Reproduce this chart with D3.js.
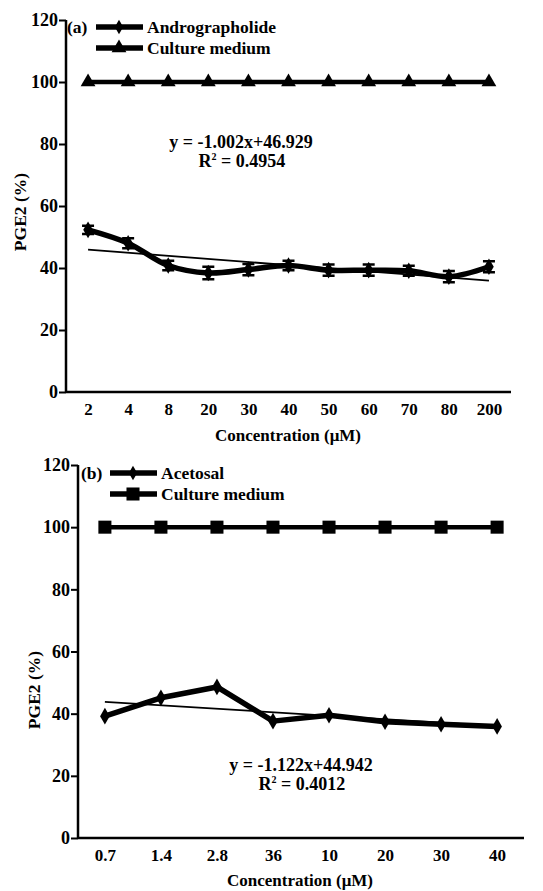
<!DOCTYPE html>
<html>
<head>
<meta charset="utf-8">
<script src="https://d3js.org/d3.v7.min.js"></script>
<style>
  body { margin: 0; background: #fff; }
  text { font-family: "Liberation Serif", "Times New Roman", serif; font-weight: bold; fill: #000; }
</style>
</head>
<body>
<script>
// panel (a)
var concA = ["2", "4", "8", "20", "30", "40", "50", "60", "70", "80", "200"];
var androValues = [52.3, 48.0, 40.8, 38.4, 39.5, 40.8, 39.3, 39.3, 39.1, 37.2, 40.4];
var androErr = [1.3, 1.6, 1.5, 2.0, 1.8, 1.5, 1.8, 1.8, 1.6, 1.8, 1.8];
var mediumA = [100, 100, 100, 100, 100, 100, 100, 100, 100, 100, 100];
var trendA = { slope: -1.002, intercept: 46.929 };

// panel (b)
var concB = ["0.7", "1.4", "2.8", "36", "10", "20", "30", "40"];
var acetoValues = [39.2, 45.1, 48.6, 37.6, 39.5, 37.4, 36.6, 35.9];
var mediumB = [100, 100, 100, 100, 100, 100, 100, 100];
var trendB = { slope: -1.122, intercept: 44.942 };

var yTicks = [0, 20, 40, 60, 80, 100, 120];

var width = 543, height = 891;
var svg = d3.select("body").append("svg")
    .attr("width", width)
    .attr("height", height);

function drawPanel(opt) {
    var x = d3.scalePoint().domain(opt.cats).range([opt.left, opt.right]).padding(opt.pad);
    var y = d3.scaleLinear().domain([0, 120]).range([opt.bottom, opt.top]);
    var g = svg.append("g");

    // axes
    var yAxis = g.append("g")
        .attr("transform", "translate(" + opt.left + ",0)")
        .call(d3.axisLeft(y).tickValues(yTicks).tickSize(7).tickPadding(1));
    var xAxis = g.append("g")
        .attr("transform", "translate(0," + opt.bottom + ")")
        .call(d3.axisBottom(x).tickSize(0).tickPadding(11));
    [yAxis, xAxis].forEach(function (a) {
        a.select(".domain").attr("stroke", "#000").attr("stroke-width", 2.5);
        a.selectAll(".tick line").attr("stroke", "#000").attr("stroke-width", 2);
        a.selectAll(".tick text").style("font-family", "Liberation Serif").style("font-weight", "bold").attr("fill", "#000");
    });
    yAxis.selectAll(".tick text").style("font-size", "18px");
    xAxis.selectAll(".tick text").style("font-size", "17px");
    yAxis.select(".domain").attr("d", "M0," + opt.bottom + "V" + opt.top);
    xAxis.select(".domain").attr("d", "M" + opt.left + ",0H" + opt.right);

    // axis titles
    g.append("text")
        .attr("transform", "translate(" + opt.yLabelX + "," + opt.yLabelY + ") rotate(-90)")
        .attr("text-anchor", "middle")
        .style("font-size", "17.5px")
        .text("PGE2 (%)");
    g.append("text")
        .attr("x", opt.xLabelX).attr("y", opt.xLabelY)
        .attr("text-anchor", "middle")
        .style("font-size", "17px")
        .text("Concentration (\u03bcM)");

    // culture medium
    var med = opt.medium.map(function (v, i) { return [x(opt.cats[i]), y(v)]; });
    g.append("path")
        .attr("d", d3.line()(med))
        .attr("fill", "none").attr("stroke", "#000").attr("stroke-width", 4.5);
    g.selectAll(".med").data(med).enter().append("path")
        .attr("transform", function (d) { return "translate(" + d[0] + "," + d[1] + ")"; })
        .attr("d", d3.symbol().type(opt.medSymbol).size(opt.medSize));

    // trend line
    var n = opt.cats.length;
    g.append("line")
        .attr("x1", x(opt.cats[0])).attr("y1", y(opt.trend.slope * 1 + opt.trend.intercept))
        .attr("x2", x(opt.cats[n - 1])).attr("y2", y(opt.trend.slope * n + opt.trend.intercept))
        .attr("stroke", "#000").attr("stroke-width", 1.8);

    // error bars
    if (opt.err) {
        opt.values.forEach(function (v, i) {
            var cx = x(opt.cats[i]);
            var e = opt.err[i];
            g.append("path")
                .attr("d", "M" + cx + "," + y(v - e) + "V" + y(v + e) +
                    "M" + (cx - 6) + "," + y(v - e) + "H" + (cx + 6) +
                    "M" + (cx - 6) + "," + y(v + e) + "H" + (cx + 6))
                .attr("stroke", "#000").attr("stroke-width", 2.5).attr("fill", "none");
        });
    }

    // main series
    var pts = opt.values.map(function (v, i) { return [x(opt.cats[i]), y(v)]; });
    g.append("path")
        .attr("d", d3.line().curve(opt.curve)(pts))
        .attr("fill", "none").attr("stroke", "#000").attr("stroke-width", 5.5)
        .attr("stroke-linejoin", "round");
    g.selectAll(".pt").data(pts).enter().append("path")
        .attr("transform", function (d) { return "translate(" + d[0] + "," + d[1] + ")"; })
        .attr("d", d3.symbol().type(d3.symbolDiamond).size(80));

    // legend
    var lx = opt.legendX, ly = opt.legendY;
    g.append("text").attr("x", lx - 29).attr("y", ly + 6).style("font-size", "17.5px").text(opt.tag);
    [[opt.seriesName, d3.symbolDiamond, 60], ["Culture medium", opt.medSymbol, opt.medSize]].forEach(function (item, k) {
        var yy = ly + k * 21;
        g.append("line").attr("x1", lx).attr("x2", lx + 47).attr("y1", yy).attr("y2", yy)
            .attr("stroke", "#000").attr("stroke-width", 5.5);
        g.append("path").attr("transform", "translate(" + (lx + 23) + "," + yy + ")")
            .attr("d", d3.symbol().type(item[1]).size(item[2]));
        g.append("text").attr("x", lx + 51).attr("y", yy + 6).style("font-size", "17.5px").text(item[0]);
    });

    // equation
    g.append("text").attr("x", opt.eqX).attr("y", opt.eqY).attr("text-anchor", "middle")
        .style("font-size", "18px")
        .text("y = " + opt.trend.slope.toFixed(3) + "x+" + opt.trend.intercept.toFixed(3));
    var r = g.append("text").attr("x", opt.eqX + 1).attr("y", opt.eqY + 19).attr("text-anchor", "middle")
        .style("font-size", "18px");
    r.append("tspan").text("R");
    r.append("tspan").attr("dy", -7).style("font-size", "10px").text("2");
    r.append("tspan").attr("dy", 7).text(" = " + opt.r2);
}

drawPanel({
    cats: concA, values: androValues, err: androErr, medium: mediumA, trend: trendA, r2: "0.4954",
    left: 66, right: 511, pad: 0.55, top: 20, bottom: 392,
    curve: d3.curveCatmullRom, medSymbol: d3.symbolTriangle, medSize: 95,
    yLabelX: 26, yLabelY: 212, xLabelX: 288, xLabelY: 441,
    legendX: 96, legendY: 27, tag: "(a)", seriesName: "Andrographolide",
    eqX: 241, eqY: 148
});

drawPanel({
    cats: concB, values: acetoValues, err: null, medium: mediumB, trend: trendB, r2: "0.4012",
    left: 78, right: 524, pad: 0.48, top: 465, bottom: 838,
    curve: d3.curveLinear, medSymbol: d3.symbolSquare, medSize: 170,
    yLabelX: 40, yLabelY: 690, xLabelX: 300, xLabelY: 886,
    legendX: 110, legendY: 473, tag: "(b)", seriesName: "Acetosal",
    eqX: 301, eqY: 771
});
</script>
</body>
</html>
